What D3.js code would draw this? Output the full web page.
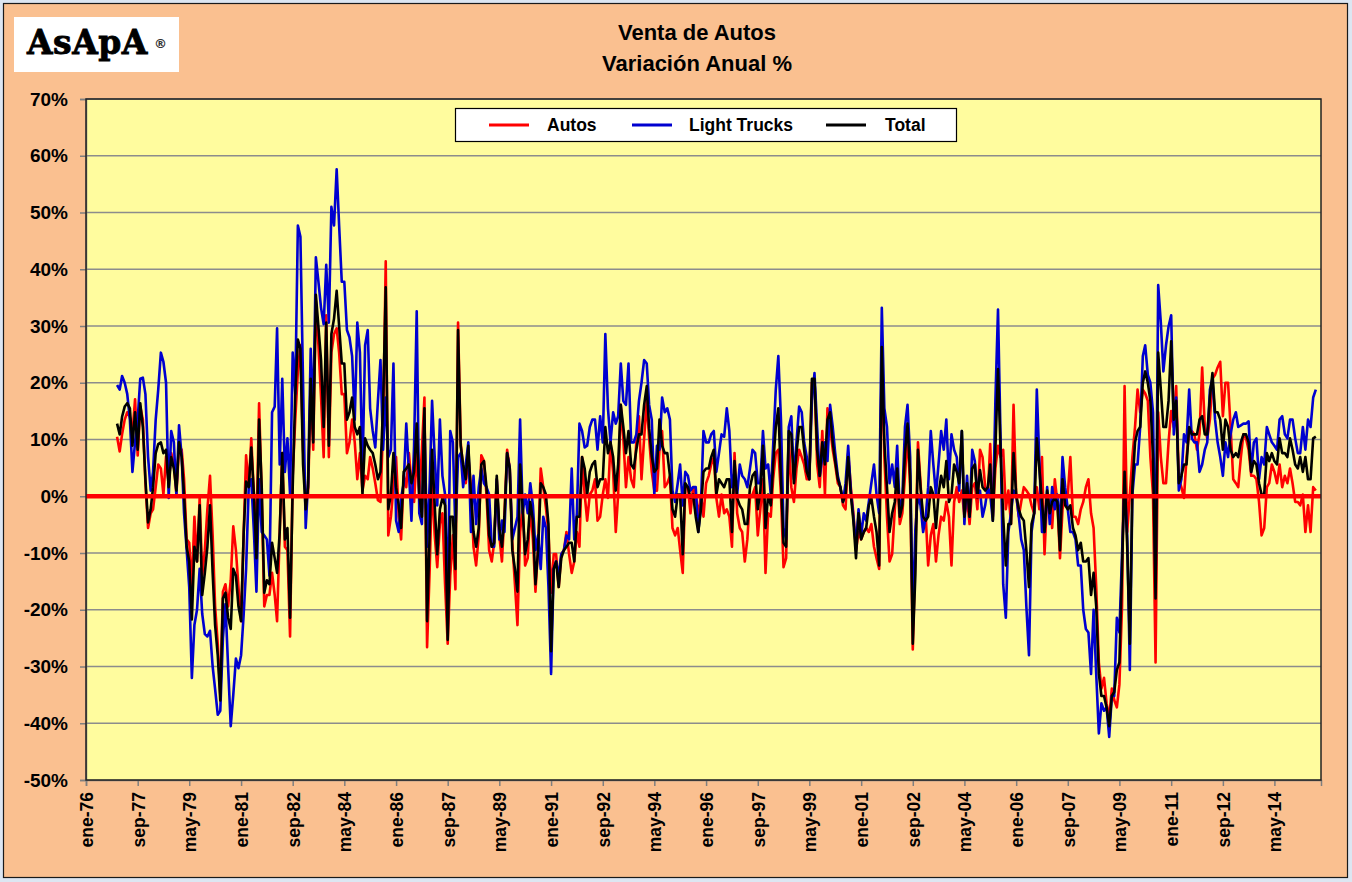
<!DOCTYPE html>
<html>
<head>
<meta charset="utf-8">
<script src="https://cdn.jsdelivr.net/npm/d3@7"></script>
<style>
html,body{margin:0;padding:0;background:#dce6f2;}
svg{display:block;}
text{font-family:"Liberation Sans",Arial,sans-serif;}
</style>
</head>
<body>
<svg id="chart" width="1352" height="882"></svg>
<script>
// ---------------- DATA ----------------
const monthNames = ["ene","feb","mar","abr","may","jun","jul","ago","sep","oct","nov","dic"];
const firstMonth = "ene-77";   // first monthly observation
const axisStart = "ene-76";
const axisEnd = "nov-15";
const xTickLabels = ["ene-76","sep-77","may-79","ene-81","sep-82","may-84","ene-86","sep-87","may-89","ene-91","sep-92","may-94","ene-96","sep-97","may-99","ene-01","sep-02","may-04","ene-06","sep-07","may-09","ene-11","sep-12","may-14"];
const yTicks = [-50,-40,-30,-20,-10,0,10,20,30,40,50,60,70];
const seriesNames = ["Autos","Light Trucks","Total"];

const autos = [
10.5,7.9,10.9,13.5,14.8,14,10.9,17.1,7.2,15.8,13.5,2.3,-5.6,-3,-2.3,1.6,5.6,4.9,0.3,7,2.3,7.6,5.6,0.3,8.9,8.2,3,-7.6,-8.2,-16,-3.6,-11.5,-0.3,-14,-9.5,-2.3,3.6,
-6.9,-19.4,-26,-35,-16.8,-15.5,-19.4,-14.8,-5.3,-9.5,-16,-22,-6.3,7.2,1.6,10.2,0.3,-6.3,16.4,0.3,-19.4,-17.4,-17.4,-13.5,-17.4,-22,-6.3,7.6,-8.9,-9.5,-24.7,3.6,13.5,22,26.6,8.2,-0.3,0.3,18.8,8.2,34.5,26.6,17.4,6.9,
31.9,6.9,25.3,28.6,29.6,25.3,18,18,7.6,9.5,13.5,9.5,3,7.6,1,3.6,3,6.9,4.9,2.3,-0.7,-1,12.2,41.4,-6.9,-3.6,1.6,6.9,-3.6,-7.6,3.6,1.6,7.6,2.3,-1,7.6,0.3,8.2,17.4,-26.6,
-12.8,3,-6.9,-12.5,-4.9,-3,-15.5,-26,-14,-6.9,-16.4,30.6,9.5,4.9,2.3,6.9,1.6,-8.9,-12.2,-6.9,7.2,6.2,0.3,-9.5,-11.5,-8.2,3,-6.9,-11.5,-3,8.2,4.9,-8.2,-15.5,-22.7,-6.3,-1.6,-12.2,-10.9,-1.6,-7.6,-16.8,-8.9,
4.9,1.6,-2,-6.3,-17,-10.2,-10.2,-16,-10.2,-9.5,-6.3,-10.2,-13.5,-11.5,-6.3,-8.9,6.9,0.3,-4.3,0.3,1,3,-4.3,-3.6,0.3,3,-0.3,9.5,4.3,-6.3,0.3,16.1,10.2,1.6,6.9,3,1.6,9.5,14.1,3,10.2,16.8,10.2,4.3,
1,1,8.2,11.5,1.6,2.3,3.6,-5.6,-6.9,-5.6,-9.5,-13.5,1.6,1.6,-3,1.6,0.3,-3.6,0.3,-3.6,2.3,3.6,5.6,6.9,-0.3,-3.6,0.3,-3,-2.3,-3.6,-8.9,7.6,-3,-5.6,-6.3,-11.5,-7.6,-0.3,0.3,1.6,-6.9,
-2.3,3,-13.5,-3,-3.6,3,7.6,8.2,0.3,-12.5,-10.9,10.2,1.6,-1,4.9,8.2,6.9,5.6,3,3,20,20.7,5.6,1.6,11.5,0.3,15.5,12.2,8.2,5.6,2.3,1.6,-1.6,-2.3,7.6,1.6,-3,-9.5,-6.3,-7.6,-6.3,-5.6,
-6.3,-4.9,-8.9,-10.9,-12.8,25.3,6.9,-3.6,-11.5,-10.2,-2.3,3.6,-4.9,-3,3.6,10.9,1.6,-27,-10,9.5,2.3,-5.6,-3.6,-12.2,-6.9,-4.9,-11.5,-6.9,-3.6,-4.3,-1,-3.6,-12.2,-1,1.6,-1,1,-3.6,-0.3,-4.9,1.6,2.3,-2.3,
8.2,6.9,1.6,0.3,9.2,-3.6,4.9,8.9,6.9,8.2,-2.3,1,-4.9,16.1,0.3,-3.6,-1,1.6,1,0.3,-1.6,-3,1.6,-2.3,6.9,-10.2,0.3,-1,-5.6,3,-1,-10.9,-2.3,0.3,0.3,6.9,-3.6,-3.6,-4.9,-2.3,-1,1.6,
3,-3,-5.6,-16,-29.3,-33.9,-32,-36.5,-39,-33.9,-35.9,-37.2,-33.2,-19.4,19.4,-6.3,0.3,6.9,12.2,18.8,14.8,18.8,18.1,16.8,6.9,0.3,-29.3,14.8,6.9,2.3,2.3,9.5,15,12.2,19.4,3,1.6,-0.3,6.9,11.5,11.5,10.9,8.2,
11,22.7,12.2,10.2,13.5,20.7,21.4,22.7,23.7,14.1,20,20,12.2,3,2.3,1.6,6.9,10.9,10.2,8.2,3.6,3.6,3,-1,-6.9,-5.6,1.6,2.3,5.6,4.3,2.3,5.6,1.6,3.6,2.3,4.9,2.3,-1,-1,-1.6,0.3,-6.3,-1.6,-6.3,1.6,1
];

const lightTrucks = [
19.6,18.8,21.2,20,18,13.5,4.3,9.5,13.5,20.7,20.9,18,7,1,4.3,13.5,18.8,25.3,23.7,20,-0.3,11.5,9.5,0.3,12.5,7,-3,-9.5,-16,-32,-22.7,-20,-12.8,-20.7,-24.3,-24.7,-23.7,
-30,-34,-38.5,-37.8,-25,-19,-30,-40.5,-35,-28.6,-30.3,-28,-20.7,-12.8,1.6,3,-6.3,-16.8,3,-6.3,-6.9,-7.6,-14,14.8,15.8,29.6,5.6,20.7,4.3,10.2,0.3,25.3,18,47.7,45.7,20,-5.6,2.3,26,13.5,42.1,37.8,33.2,30.3,
40.8,30.6,51,47.7,57.6,47.7,37.8,37.8,29.3,28,24.7,13.5,30.6,25.3,4.3,26.6,29.3,15.5,11.5,8.6,16.8,24,8.2,17.4,6.9,8.2,23.4,-4.3,-6.3,-0.3,2.3,12.8,4.3,-4.3,8.9,32.6,-3,-4.9,13.5,-8.9,
2.3,16.8,6.9,-1.6,13.5,3.6,0.3,-19.4,11.5,9.5,-6.3,6.9,7.6,1.6,5.6,9.5,-6.3,3.6,-4.9,1.6,4.9,2.3,1.6,0.3,-8.9,-8.9,3,-7.6,-4.3,-6.3,7.6,4.9,-7.6,-5.6,-3.6,13.5,-3,0.3,-3,2.3,-1.6,-9.5,-6.9,
-12.8,-3.6,-5.6,-16,-31.3,-12.8,-11.5,-14,-10.2,-9.5,-6.9,-7.6,4.9,-7.6,-3,12.8,11.5,8.6,8.9,12.2,13.5,13.5,8.2,14.1,9.5,28.6,15.5,9.5,14.8,12.8,14.1,23.4,16.8,16.1,23.4,9.5,9.5,10.9,16.8,20,24,23.4,
16.1,13.5,0.3,8.9,8.2,17.4,14.8,15.5,13.5,1,-1,2.3,5.6,-1.6,4.3,3.6,1,1.6,1.6,-6.3,-1.6,11.5,9.5,9.5,10.9,11.5,4.3,7.6,10.9,10.5,15.5,11.5,1.6,4.3,0.3,5.6,3.6,3,1.6,4.9,8.2,7.6,2.3,
2.3,11.5,4.9,5.6,0.3,8.9,18.8,24.7,13.5,-5.6,-7.6,12.2,14.1,3,9.5,15.8,14.8,9.5,6.9,3,16.8,21.7,12.2,3.6,6.9,9.5,6.2,16.1,12.2,7.6,3.6,1.6,-1,2.3,8.9,1,-3.6,-8.9,-2.3,-6.9,-3,-4.3,
-1,2.3,5.6,0.3,-3,33.2,15.5,12.2,2.3,5.6,1.6,8.9,-3,-0.3,12.2,16.1,6.9,-22,-6,0.3,-1.6,-6.3,-3.6,1.6,11.5,5.6,0.3,5.6,11.5,8.2,13.5,3,10.9,8.2,6.9,1,11.5,-4.9,3.6,-3.6,8.2,6.2,0.3,
1,-3.6,-1.6,1.6,0.3,-4.3,16.8,32.9,10.2,-15.5,-21.4,-6.3,-3,1,0.3,-3.6,-7.6,-9.5,-19.4,-28,-6.3,-3,18.8,6.2,-6.3,-6.3,1.6,-4.9,1.6,-2.3,0.3,-5.6,6.9,1.6,-2.3,-6.3,-6.3,-7.6,-12.2,-12.2,-20,-23.4,-24,
-31.3,-20,-31.3,-41.8,-36.5,-37.8,-37.2,-42.4,-35.2,-35.2,-21.4,-24,-10.2,2.3,-6.9,-30.6,0.3,5.6,5.6,12.2,24.7,26.6,21.4,20,14.8,-16,37.2,30.6,22,26.6,29.9,31.9,10.9,17.4,1,3,10.9,9.5,18.8,10.2,9.5,9.5,
4.3,5.6,8.2,9.5,18.8,20.7,13.5,9.5,6.9,3.6,9.5,6.9,10.9,13.5,14.8,12.2,12.5,12.8,12.8,13.2,4.3,9.5,10.2,3,6.9,5.6,12.2,10.9,9.5,8.9,8.2,13.5,14.1,10.9,10.2,13.5,13.5,10.2,7.6,7.6,12.2,8.2,13.5,12.2,17.4,18.8
];

const total = [
12.8,10.9,14,15.8,16.4,15.5,8.9,14.8,8.2,16.4,12.2,3,-4.6,-2.3,1.6,7.6,9.2,9.5,7.6,8.2,1.6,6.9,4.9,1,9.5,6.9,0.3,-8.9,-11.5,-21.7,-8.9,-11.5,-1.6,-17.4,-13.5,-8.9,-1.6,
-13.5,-22.7,-28,-36,-18,-17,-21.4,-23.4,-12.8,-14,-19.4,-22,-6.3,2.6,1.6,8.6,0.3,-10.9,13.5,1.6,-17,-14.8,-15.5,-8.2,-10.9,-13.5,-6.3,7.6,-7.6,-5.6,-21.4,1.6,18,27.6,26,5.6,-2.3,1.6,20.7,9.5,35.5,29.9,24,12.2,
30.6,8.9,28.6,31.3,36.2,30,23.4,23.4,13.5,14.8,17.4,12.2,10.9,12.2,0.3,10.2,8.9,8.2,7.6,5.6,3,4.3,16.1,36.8,-2.3,0.3,7.6,1.6,-1.6,-5.6,4.3,4.9,5.6,2.3,4.3,12.8,0.3,-3.6,15.5,-22,
-6.3,8.2,-1.6,-10.2,-2.3,-0.3,-1.6,-25.3,-3.6,-3.6,-12.8,29.3,8.9,5.6,3,8.9,0.3,-6.3,-8.9,-5.6,5.6,6.2,1.6,-6.9,-8.9,-8.2,3.6,-5.6,-8.9,-3.6,7.6,4.9,-9.5,-12.8,-16.8,5.6,-2.3,-10.2,-7.6,-1,-4.3,-15.5,-9.5,
2.3,1.6,0.3,-4.9,-27.3,-12.8,-11.5,-16,-10.9,-9.5,-8.9,-8.2,-8.2,-11.5,-3.6,-3.6,6.9,4.9,0.3,4.3,5.6,6.2,1.6,3,3,12.2,7.6,9.5,6.9,1,5.6,16.1,12.2,7.6,11.5,5.6,4.9,8.2,10.9,10.9,16.1,19.4,12,7,
4.3,4.9,13.5,8.9,7.6,7.6,3.6,-2.3,-3.6,0.3,0.3,-10.2,2.3,1.6,-0.3,0.3,-3.6,-6.3,-2.3,4.3,4.9,4.9,6.9,8.2,0.3,3,2.3,1.6,3,3,-6.3,6.2,-0.3,-1.6,-2.3,-4.9,-4.9,1.6,3.6,4.3,-2.3,
1,8.9,-5.6,0.3,-1.6,5.6,12.2,15.5,3,-8.2,-8.9,11.5,10.9,2.3,7.6,12.2,12.2,8.2,4.3,3,20.7,20.7,8.2,3.6,9.5,5.6,13.5,14.8,9.5,6.2,3,1.6,-1,0.3,6.9,0.3,-4.3,-10.9,-3,-7.6,-6.3,-5.6,
-1.6,-0.3,-3.6,-6.3,-12.2,26.3,9.5,1.6,-6.3,-3,-1,4.9,-3.6,-1.6,7.6,12.8,3.6,-26,-14,8.2,1.6,-3.6,-4.3,-3.6,1.6,0.3,-5.6,0.3,3.6,1.6,6.2,-1,0.3,5.6,4.3,2.3,11.5,-3.6,2.3,-3.6,4.9,5.6,-0.3,
4.6,1.6,1,1.6,5.6,-4.3,8.2,22.4,8.2,-3.6,-12.2,-4.9,-4.9,7.6,0.3,-2.3,-3.6,-4.3,-9.5,-16,-4.9,-3,10.2,4.9,-1,-6.3,1,-3,-1,-0.3,-1,-9.5,3,-1.6,-2.3,-1.6,-5.6,-6.9,-9.5,-8.2,-11.5,-11.5,
-10.9,-17.4,-13.5,-19.4,-31.3,-35.2,-35.2,-37.2,-40.5,-35.2,-34.5,-30.6,-29.3,-12.8,4.3,-8.9,-26,1.6,9.5,11.5,12.2,20,22,20,16.8,6.9,-18,25.3,18.8,12.2,12.2,16.8,27.3,13.5,16.8,2.3,3.6,5.6,5.6,12.2,10.9,10.9,10.9,
13.5,14.1,10.9,10.9,17.4,21.7,14.8,14.8,13.5,8.2,13.5,12.2,8.2,6.9,7.6,6.9,9.5,10.9,10.9,9.5,4.3,6.2,5.6,2.3,0.3,0.3,7.6,6.2,7.6,6.2,5.6,10.2,7.6,7.6,6.9,10.2,8.2,5.6,4.9,6.9,4.3,6.9,3,3,10.2,10.5
];

// ---------------- HELPERS ----------------
function parseMonth(lbl){
  const m = monthNames.indexOf(lbl.slice(0,3));
  const yy = +lbl.slice(4);
  return new Date(yy >= 50 ? 1900+yy : 2000+yy, m, 1);
}
const start = parseMonth(firstMonth);
function toPoints(arr){
  return arr.map((v,i)=>({date:new Date(start.getFullYear(), start.getMonth()+i, 1), v:v}));
}

// ---------------- LAYOUT ----------------
const W = 1352, H = 882;
const plot = {left:86, right:1321, top:99, bottom:780};
const svg = d3.select("#chart");

svg.append("rect").attr("x",3.5).attr("y",3.5).attr("width",W-8).attr("height",H-8)
  .attr("fill","#FAC090").attr("stroke","#1a1a1a").attr("stroke-width",1.2);

// logo
svg.append("rect").attr("x",14).attr("y",17).attr("width",165).attr("height",55).attr("fill","#ffffff");
svg.append("text").attr("x",27).attr("y",54)
  .style("font-family","'DejaVu Serif','Liberation Serif',serif").style("font-weight","bold")
  .style("font-size","33px").style("letter-spacing","0.5px")
  .attr("fill","#000").attr("stroke","#000").attr("stroke-width",0.8).text("AsApA");
svg.append("text").attr("x",154).attr("y",48)
  .style("font-family","'DejaVu Sans',sans-serif").style("font-weight","bold")
  .style("font-size","13px").attr("fill","#333").text("®");

// title
svg.append("text").attr("x",697).attr("y",40).attr("text-anchor","middle")
  .style("font-weight","bold").style("font-size","22px").attr("fill","#000").text("Venta de Autos");
svg.append("text").attr("x",697).attr("y",71).attr("text-anchor","middle")
  .style("font-weight","bold").style("font-size","22px").attr("fill","#000").text("Variación Anual %");

// scales
const x = d3.scaleTime().domain([parseMonth(axisStart), parseMonth(axisEnd)]).range([plot.left, plot.right]);
const y = d3.scaleLinear().domain([-50,70]).range([plot.bottom, plot.top]);

// plot area
svg.append("rect").attr("x",plot.left).attr("y",plot.top)
  .attr("width",plot.right-plot.left).attr("height",plot.bottom-plot.top).attr("fill","#FFFC9E");

// gridlines
svg.append("g").selectAll("line").data(yTicks.filter(t=>t!==0 && t!==-50)).enter().append("line")
  .attr("x1",plot.left).attr("x2",plot.right).attr("y1",d=>y(d)).attr("y2",d=>y(d))
  .attr("stroke","#8c8c8c").attr("stroke-width",1.6);

// y axis
const yAxis = d3.axisLeft(y).tickValues(yTicks).tickFormat(d=>d+"%").tickSize(6).tickPadding(12);
const gy = svg.append("g").attr("transform",`translate(${plot.left},0)`).call(yAxis);
gy.select(".domain").attr("stroke","#7f7f7f").attr("stroke-width",1.5);
gy.selectAll(".tick line").attr("stroke","#7f7f7f").attr("stroke-width",1.5);
gy.selectAll("text").style("font-size","19px").style("font-weight","bold").attr("fill","#000")
  .style("font-family","'Liberation Sans',Arial,sans-serif");

// x axis
const xTickDates = xTickLabels.map(parseMonth);
const xAxis = d3.axisBottom(x).tickValues(xTickDates).tickFormat((d,i)=>xTickLabels[i]).tickSize(6);
const gx = svg.append("g").attr("transform",`translate(0,${plot.bottom})`).call(xAxis);
gx.select(".domain").attr("stroke","#7f7f7f").attr("stroke-width",1.5);
gx.selectAll(".tick line").attr("stroke","#7f7f7f").attr("stroke-width",1.5);
gx.selectAll("text").attr("transform","rotate(-90)").attr("text-anchor","end")
  .attr("x",-12).attr("y",0).attr("dy","0.36em")
  .style("font-size","17.5px").style("font-weight","bold").attr("fill","#000")
  .style("font-family","'Liberation Sans',Arial,sans-serif");

// series
const line = d3.line().x(d=>x(d.date)).y(d=>y(d.v));
const series = [
  {name:seriesNames[0], data:autos, color:"#FF0000"},
  {name:seriesNames[1], data:lightTrucks, color:"#0000D0"},
  {name:seriesNames[2], data:total, color:"#000000"}
];
const gs = svg.append("g");
series.forEach(s=>{
  gs.append("path").datum(toPoints(s.data)).attr("d",line)
    .attr("fill","none").attr("stroke",s.color).attr("stroke-width",2.6)
    .attr("stroke-linejoin","round");
});

// zero line
svg.append("line").attr("x1",plot.left).attr("x2",plot.right).attr("y1",y(0)).attr("y2",y(0))
  .attr("stroke","#FF0000").attr("stroke-width",4.5);

// plot border
svg.append("rect").attr("x",plot.left).attr("y",plot.top)
  .attr("width",plot.right-plot.left).attr("height",plot.bottom-plot.top)
  .attr("fill","none").attr("stroke","#222").attr("stroke-width",1.5);

// legend
const lg = svg.append("g");
lg.append("rect").attr("x",455.5).attr("y",108.5).attr("width",501).attr("height",33)
  .attr("fill","#ffffff").attr("stroke","#000").attr("stroke-width",1.2);
const legendItems = [
  {x:489, tx:547},
  {x:632, tx:689},
  {x:826, tx:885}
];
series.forEach((s,i)=>{
  const it = legendItems[i];
  lg.append("line").attr("x1",it.x).attr("x2",it.x+40).attr("y1",125).attr("y2",125)
    .attr("stroke",s.color).attr("stroke-width",3);
  lg.append("text").attr("x",it.tx).attr("y",131).style("font-weight","bold")
    .style("font-size","17.5px").attr("fill","#000").text(s.name);
});
</script>
</body>
</html>
